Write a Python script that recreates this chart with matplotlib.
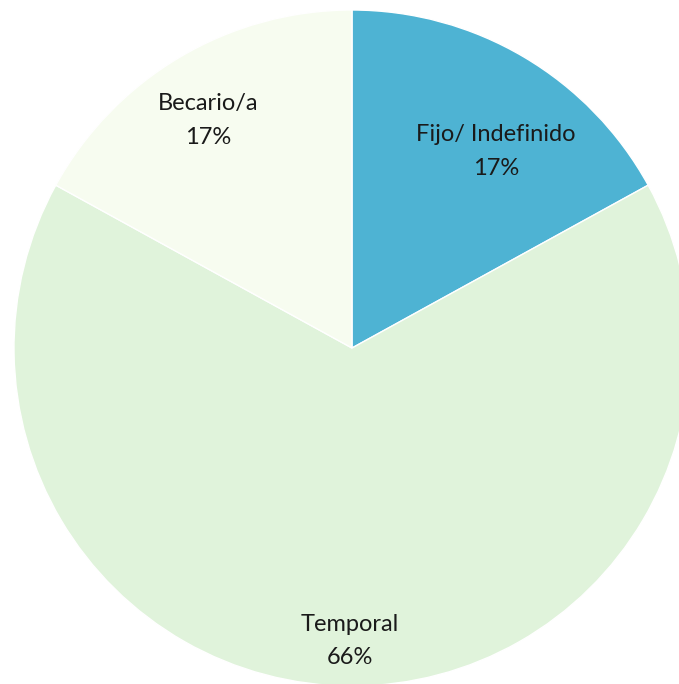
import numpy as np
import matplotlib.pyplot as plt

categories = ['Fijo/ Indefinido', 'Temporal', 'Becario/a']
values = [17, 66, 17]
colors = ['#4EB3D3', '#E0F3DB', '#F7FCF0']
# label placement: radial distance and angle tweak (deg) per slice
label_dist = [0.72, 0.867, 0.797]
label_rot = [-5.6, -0.4, 1.8]

plt.rcParams['font.family'] = ['Lato', 'DejaVu Sans']

fig = plt.figure(figsize=(6.79, 6.84), dpi=100)
ax = fig.add_axes([0, 0, 1, 1])
wedges, _ = ax.pie(values, colors=colors, startangle=90, counterclock=False,
                   radius=1.0, wedgeprops=dict(edgecolor='white', linewidth=1.0))

total = sum(values)
for w, name, v, d, r in zip(wedges, categories, values, label_dist, label_rot):
    mid = np.deg2rad((w.theta1 + w.theta2) / 2.0 + r)
    ax.text(d * np.cos(mid), d * np.sin(mid), '%s\n%d%%' % (name, round(100.0 * v / total)),
            ha='center', va='center', fontsize=17, color='#1a1a1a', linespacing=1.75)

ax.set_xlim(-1.0414, 0.9675)
ax.set_ylim(-0.994, 1.0296)
ax.set_aspect('auto')
ax.axis('off')
plt.savefig('out.png', dpi=100)
